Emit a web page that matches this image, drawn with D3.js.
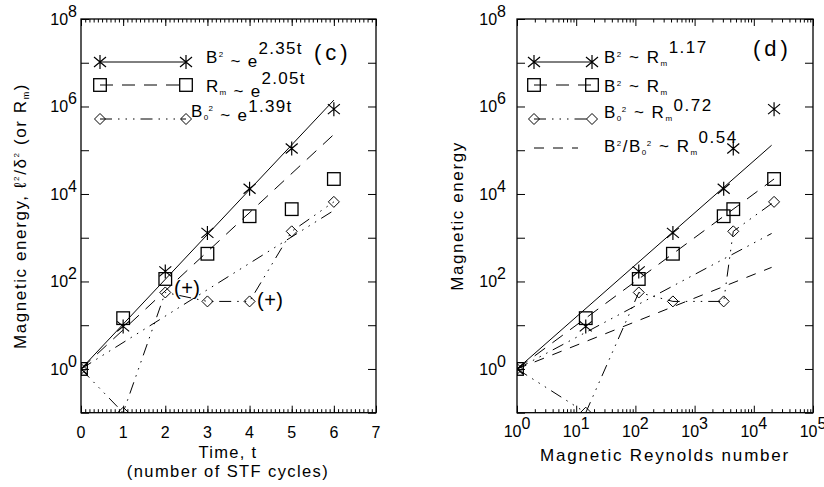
<!DOCTYPE html>
<html>
<head>
<meta charset="utf-8">
<script src="https://cdn.jsdelivr.net/npm/d3@7"></script>
<style>
  body { margin: 0; background: #fff; }
  text { font-family: "Liberation Sans", Arial, sans-serif; fill: #000; }
</style>
</head>
<body>
<svg id="chart" width="824" height="487"></svg>
<script>
// time in STF cycles
const cycles = [0, 1, 2, 3, 4, 5, 6];
// B^2 (stars), Rm (squares), B0^2 (diamonds)
const energyB2 = [1, 9.4, 170, 1290, 13200, 110000, 870000];
const reynolds = [1, 14.5, 114, 430, 3100, 4500, 22000];
const energyB02 = [1, 0.1, 56, 35, 35, 1400, 6600];

// fitted lines, end points
const fitTime = [0, 6];
const fitB2t = [1, 1.4e6];
const fitRmt = [1, 2.3e5];
const fitB02t = [1, 4200];
const fitRm = [1, 2.0e4];
const fitB2Rm = [1, 1.3e5];
const fitRmX = [1, 2.2e4];
const fitRmRm = [1, 2.2e4];
const fitB02Rm = [1, 1250];
const fitRatioRm = [1, 210];

const timeTicks = [0, 1, 2, 3, 4, 5, 6, 7];
const decadesY = [-1, 0, 1, 2, 3, 4, 5, 6, 7, 8];
const labelDecadesY = [0, 2, 4, 6, 8];
const decadesX = [0, 1, 2, 3, 4, 5];

const svg = d3.select("#chart");

const plotTop = 19, plotBottom = 412.7;
const xC = d3.scaleLinear().domain([0, 7]).range([81, 376]);
const xD = d3.scaleLog().domain([1, 1e5]).range([517, 813]);
const yE = d3.scaleLog().domain([0.1, 1e8]).range([plotBottom, plotTop]);

const DASH = "13,9";
const DASH_DOT3 = "12,6,1.5,6,1.5,6,1.5,6";
const SHORT_DASH = "10,9";

// marker shapes
function star(g, x, y) {
    g.append("path")
        .attr("d", `M${x},${y - 7}V${y + 7}M${x - 6},${y - 5}L${x + 6},${y + 5}M${x - 6},${y + 5}L${x + 6},${y - 5}`)
        .attr("stroke", "#000").attr("stroke-width", 1.2).attr("fill", "none");
}
function square(g, x, y) {
    g.append("rect").attr("x", x - 6.3).attr("y", y - 6.3)
        .attr("width", 12.6).attr("height", 12.6)
        .attr("stroke", "#000").attr("stroke-width", 1.3).attr("fill", "none");
}
function diamond(g, x, y) {
    g.append("path")
        .attr("d", `M${x},${y - 5.5}L${x + 5.5},${y}L${x},${y + 5.5}L${x - 5.5},${y}Z`)
        .attr("stroke", "#000").attr("stroke-width", 1).attr("fill", "none");
}

function polyline(g, xs, ys, x, dash) {
    const line = d3.line().x(d => x(d[0])).y(d => yE(d[1]));
    g.append("path")
        .datum(xs.map((v, i) => [v, ys[i]]))
        .attr("fill", "none")
        .attr("stroke", "#000")
        .attr("stroke-width", 1)
        .attr("stroke-dasharray", dash)
        .attr("d", line);
}

// rich text: parts = [text, size, dy, dx]
function rich(x, y, parts, spacing) {
    const t = svg.append("text").attr("x", x).attr("y", y)
        .attr("letter-spacing", spacing || 0);
    parts.forEach(([s, size, dy, dx]) => {
        t.append("tspan").attr("font-size", size).attr("dy", dy || 0).attr("dx", dx || 0).text(s);
    });
    return t;
}

function frame(x, minorX, majorX, id) {
    const x0 = x.range()[0], x1 = x.range()[1];
    const g = svg.append("g");
    const addAxis = (axis, tr) => {
        const a = g.append("g").attr("transform", tr).call(axis);
        a.select(".domain").remove();
        a.selectAll("line").attr("stroke", "#000");
    };
    addAxis(d3.axisBottom(x).tickValues(majorX).tickSize(-7).tickFormat(""), `translate(0,${plotBottom})`);
    addAxis(d3.axisTop(x).tickValues(majorX).tickSize(-7).tickFormat(""), `translate(0,${plotTop})`);
    addAxis(d3.axisBottom(x).tickValues(minorX).tickSize(-3.5).tickFormat(""), `translate(0,${plotBottom})`);
    addAxis(d3.axisTop(x).tickValues(minorX).tickSize(-3.5).tickFormat(""), `translate(0,${plotTop})`);
    const yTicks = decadesY.map(e => Math.pow(10, e));
    addAxis(d3.axisLeft(yE).tickValues(yTicks).tickSize(-8).tickFormat(""), `translate(${x0},0)`);
    addAxis(d3.axisRight(yE).tickValues(yTicks).tickSize(-8).tickFormat(""), `translate(${x1},0)`);
    g.append("rect").attr("x", x0).attr("y", plotTop)
        .attr("width", x1 - x0).attr("height", plotBottom - plotTop)
        .attr("fill", "none").attr("stroke", "#000").attr("stroke-width", 1.3);

    svg.append("clipPath").attr("id", id).append("rect")
        .attr("x", x0).attr("y", plotTop).attr("width", x1 - x0).attr("height", plotBottom - plotTop);
    return svg.append("g").attr("clip-path", `url(#${id})`);
}

// ---------- panel (c) ----------
const minorT = d3.range(0, 70).map(i => i / 10);
const plotC = frame(xC, minorT, timeTicks, "clipC");

polyline(plotC, fitTime, fitB2t, xC, null);
polyline(plotC, fitTime, fitRmt, xC, DASH);
polyline(plotC, fitTime, fitB02t, xC, DASH_DOT3);
polyline(plotC, cycles, energyB02, xC, DASH_DOT3);
cycles.forEach((t, i) => {
    star(plotC, xC(t), yE(energyB2[i]));
    square(plotC, xC(t), yE(reynolds[i]));
    diamond(plotC, xC(t), yE(energyB02[i]));
});

timeTicks.forEach(t => {
    svg.append("text").attr("x", xC(t)).attr("y", 438)
        .attr("text-anchor", "middle").attr("font-size", 16).text(t);
});
labelDecadesY.forEach(e => {
    rich(77, yE(Math.pow(10, e)) + 6, [["10", 16], [e, 16, -8]]).attr("text-anchor", "end");
});

// axis titles (c)
rich(228, 458, [["Time, t", 16.5]], 1.3).attr("text-anchor", "middle");
rich(228, 477, [["(number of STF cycles)", 16.5]], 1.4).attr("text-anchor", "middle");
rich(0, 0, [["Magnetic energy, ", 17], ["\u2113", 17], ["2", 8, -7], ["/\u03b4", 17, 7], ["2", 8, -7], [" (or R", 17, 7], ["m", 9, 3], [")", 17, -3]], 1.6)
    .attr("text-anchor", "middle")
    .attr("transform", "translate(26,216) rotate(-90)");

// legend (c)
const legC = svg.append("g");
[[62, null, star], [85, DASH, square], [119, DASH_DOT3, diamond]].forEach(([y, dash, mk]) => {
    legC.append("line").attr("x1", 100).attr("x2", 186).attr("y1", y).attr("y2", y)
        .attr("stroke", "#000").attr("stroke-width", 1).attr("stroke-dasharray", dash);
    mk(legC, 100, y);
    mk(legC, 186, y);
});
rich(206, 63, [["B", 17], ["2", 8, -6], [" ~ e", 17, 10], ["2.35t", 17, -13]], 1.3);
rich(206, 92, [["R", 17], ["m", 8, 3], [" ~ e", 17, 2], ["2.05t", 17, -13]], 1.3);
rich(191, 117, [["B", 17], ["0", 8, 3], ["2", 8, -9, -1], [" ~ e", 17, 10], ["1.39t", 17, -9]], 1.3);
rich(314, 60, [["(c)", 22]], 4);
rich(174, 295, [["(+)", 20]], 0.5);
rich(257, 307, [["(+)", 20]], 0.5);

// ---------- panel (d) ----------
const minorR = [];
decadesX.slice(0, -1).forEach(e => d3.range(2, 10).forEach(m => minorR.push(m * Math.pow(10, e))));
const plotD = frame(xD, minorR, decadesX.map(e => Math.pow(10, e)), "clipD");

polyline(plotD, fitRm, fitB2Rm, xD, null);
polyline(plotD, fitRmX, fitRmRm, xD, DASH);
polyline(plotD, fitRm, fitB02Rm, xD, DASH_DOT3);
polyline(plotD, fitRm, fitRatioRm, xD, SHORT_DASH);
polyline(plotD, reynolds, energyB02, xD, DASH_DOT3);
reynolds.forEach((r, i) => {
    star(plotD, xD(r), yE(energyB2[i]));
    square(plotD, xD(r), yE(r));
    diamond(plotD, xD(r), yE(energyB02[i]));
});

decadesX.forEach(e => {
    rich(xD(Math.pow(10, e)), 437, [["10", 16], [e, 16, -8]]).attr("text-anchor", "middle");
});
labelDecadesY.forEach(e => {
    rich(506, yE(Math.pow(10, e)) + 6, [["10", 16], [e, 16, -8]]).attr("text-anchor", "end");
});

rich(665, 461, [["Magnetic Reynolds number", 17]], 1.8).attr("text-anchor", "middle");
rich(0, 0, [["Magnetic energy", 17]], 1.6)
    .attr("text-anchor", "middle")
    .attr("transform", "translate(463,216) rotate(-90)");

// legend (d)
const legD = svg.append("g");
[[62, null, star], [85, DASH, square], [119, DASH_DOT3, diamond]].forEach(([y, dash, mk]) => {
    legD.append("line").attr("x1", 534).attr("x2", 592).attr("y1", y).attr("y2", y)
        .attr("stroke", "#000").attr("stroke-width", 1).attr("stroke-dasharray", dash);
    mk(legD, 534, y);
    mk(legD, 592, y);
});
legD.append("line").attr("x1", 534).attr("x2", 578).attr("y1", 148).attr("y2", 148)
    .attr("stroke", "#000").attr("stroke-width", 1).attr("stroke-dasharray", SHORT_DASH);

rich(604, 63, [["B", 17], ["2", 8, -6], [" ~\u00a0R", 17, 6], ["m", 8, 3], ["1.17", 17, -13]], 1.5);
rich(604, 92, [["B", 17], ["2", 8, -6], [" ~\u00a0R", 17, 6], ["m", 8, 3]], 1.5);
rich(604, 118, [["B", 17], ["0", 8, 3], ["2", 8, -9, -1], [" ~\u00a0R", 17, 6], ["m", 8, 3], ["0.72", 17, -10]], 1.5);
rich(604, 152, [["B", 17], ["2", 8, -6], ["/B", 17, 6], ["0", 8, 3], ["2", 8, -9, -1], [" ~\u00a0R", 17, 6], ["m", 8, 3], ["0.54", 17, -12]], 1.5);
rich(753, 56, [["(d)", 22]], 4);
</script>
</body>
</html>
